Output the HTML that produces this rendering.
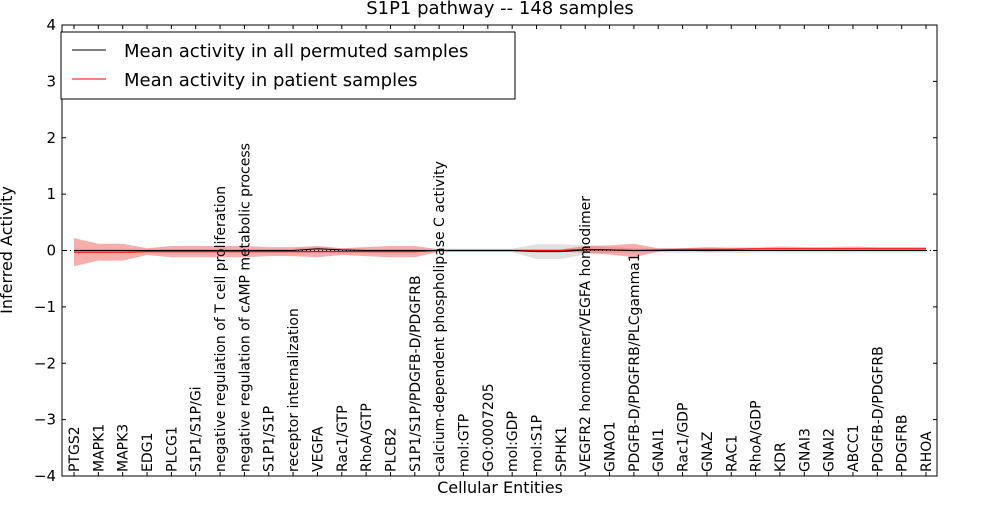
<!DOCTYPE html>
<html><head><meta charset="utf-8"><style>
body{margin:0;background:#fff;}
svg{font-family:"DejaVu Sans","Liberation Sans",sans-serif;}
</style></head><body>
<svg id="chart" width="1000" height="500">
<text x="500" y="14" text-anchor="middle" font-size="18">S1P1 pathway -- 148 samples</text>
<g id="bands"></g><g id="lines"></g><g id="axes"></g>
<rect x="62" y="25" width="875" height="451" fill="none" stroke="#000" stroke-width="1"/>
<text x="500" y="493" text-anchor="middle" font-size="16">Cellular Entities</text>
<text transform="translate(12,250) rotate(-90)" text-anchor="middle" font-size="16">Inferred Activity</text>
<g>
<rect x="61" y="32" width="454" height="67" fill="#fff" stroke="#000"/>
<line x1="72" y1="50" x2="106" y2="50" stroke="#000"/>
<text x="124" y="57" font-size="18">Mean activity in all permuted samples</text>
<line x1="72" y1="79" x2="106" y2="79" stroke="red"/>
<text x="124" y="86" font-size="18">Mean activity in patient samples</text>
</g>
</svg>
<script>
const categories=["PTGS2","MAPK1","MAPK3","EDG1","PLCG1","S1P1/S1P/Gi","negative regulation of T cell proliferation","negative regulation of cAMP metabolic process","S1P1/S1P","receptor internalization","VEGFA","Rac1/GTP","RhoA/GTP","PLCB2","S1P1/S1P/PDGFB-D/PDGFRB","calcium-dependent phospholipase C activity","mol:GTP","GO:0007205","mol:GDP","mol:S1P","SPHK1","VEGFR2 homodimer/VEGFA homodimer","GNAO1","PDGFB-D/PDGFRB/PLCgamma1","GNAI1","Rac1/GDP","GNAZ","RAC1","RhoA/GDP","KDR","GNAI3","GNAI2","ABCC1","PDGFB-D/PDGFRB","PDGFRB","RHOA"];
const patientMean=[-0.03,-0.03,-0.03,-0.02,-0.02,-0.02,-0.02,-0.02,-0.02,-0.02,-0.02,-0.02,-0.02,-0.02,-0.02,0,0,0,0,0,0,0.02,0.01,0,0.01,0.02,0.02,0.02,0.03,0.03,0.03,0.03,0.03,0.03,0.03,0.03];
const patientSpread=[0.25,0.15,0.15,0.06,0.1,0.1,0.1,0.1,0.08,0.08,0.1,0.06,0.08,0.1,0.1,0.02,0.02,0.02,0.02,0.02,0.02,0.06,0.08,0.12,0.03,0.02,0.04,0.03,0.02,0.04,0.03,0.03,0.04,0.03,0.03,0.03];
const permMean=[0,0,0,0,0,0,0,0,0,0,0.03,0.01,0,0,0,0,0,0,0,-0.02,-0.02,0.01,0.01,0,0,0,0,0,0,0,0,0,0,0,0,0];
const permSpread=[0.03,0.03,0.03,0.03,0.03,0.03,0.03,0.03,0.03,0.03,0.03,0.03,0.03,0.03,0.03,0.03,0.03,0.03,0.03,0.13,0.13,0.08,0.05,0.04,0.04,0.04,0.04,0.04,0.04,0.04,0.04,0.04,0.04,0.04,0.04,0.04];
const yTicks=[-4,-3,-2,-1,0,1,2,3,4];
const NS="http://www.w3.org/2000/svg";
const plotX0=74,plotX1=926,plotTop=25,plotBot=476;
const xs=i=>plotX0+i*(plotX1-plotX0)/(categories.length-1);
const ys=v=>plotBot-(v+4)*(plotBot-plotTop)/8;
function mk(t,p,a){const e=document.createElementNS(NS,t);for(const k in a)e.setAttribute(k,a[k]);p.appendChild(e);return e;}
const bandsG=document.getElementById('bands'),linesG=document.getElementById('lines'),axesG=document.getElementById('axes');
function band(m,s,fill,op,name){
  let pts=m.map((v,i)=>xs(i)+','+ys(v+s[i]));
  for(let i=m.length-1;i>=0;i--)pts.push(xs(i)+','+ys(m[i]-s[i]));
  const p=mk('polygon',bandsG,{points:pts.join(' '),fill:fill,'fill-opacity':op});
  
  
}
band(permMean,permSpread,'#aaa',0.35,'permuted-band');
band(patientMean,patientSpread,'#e33',0.4,'patient-band');
const z=mk('line',linesG,{x1:62,x2:937,y1:ys(0),y2:ys(0),stroke:'#000','stroke-dasharray':'1,3'});


const pl=mk('polyline',linesG,{points:patientMean.map((v,i)=>xs(i)+','+ys(v)).join(' '),fill:'none',stroke:'red','stroke-width':1.2});


const bl=mk('polyline',linesG,{points:permMean.map((v,i)=>xs(i)+','+ys(v)).join(' '),fill:'none',stroke:'#000','stroke-width':1});


yTicks.forEach(v=>{
  const y=ys(v);
  mk('line',axesG,{x1:62,x2:66,y1:y,y2:y,stroke:'#000'});
  mk('line',axesG,{x1:933,x2:937,y1:y,y2:y,stroke:'#000'});
  const t=mk('text',axesG,{x:56,y:y+5,'text-anchor':'end','font-size':15});
  t.textContent=(v<0?'\u2212'+(-v):v);
  
  
});
categories.forEach((c,i)=>{
  const x=xs(i);
  mk('line',axesG,{x1:x,x2:x,y1:plotBot,y2:plotBot-4,stroke:'#000'});
  mk('line',axesG,{x1:x,x2:x,y1:plotTop,y2:plotTop+4,stroke:'#000'});
  const t=mk('text',axesG,{transform:`translate(${x+5},472) rotate(-90)`,'font-size':14});
  t.textContent=c;
  
  
});
</script>
</body></html>
